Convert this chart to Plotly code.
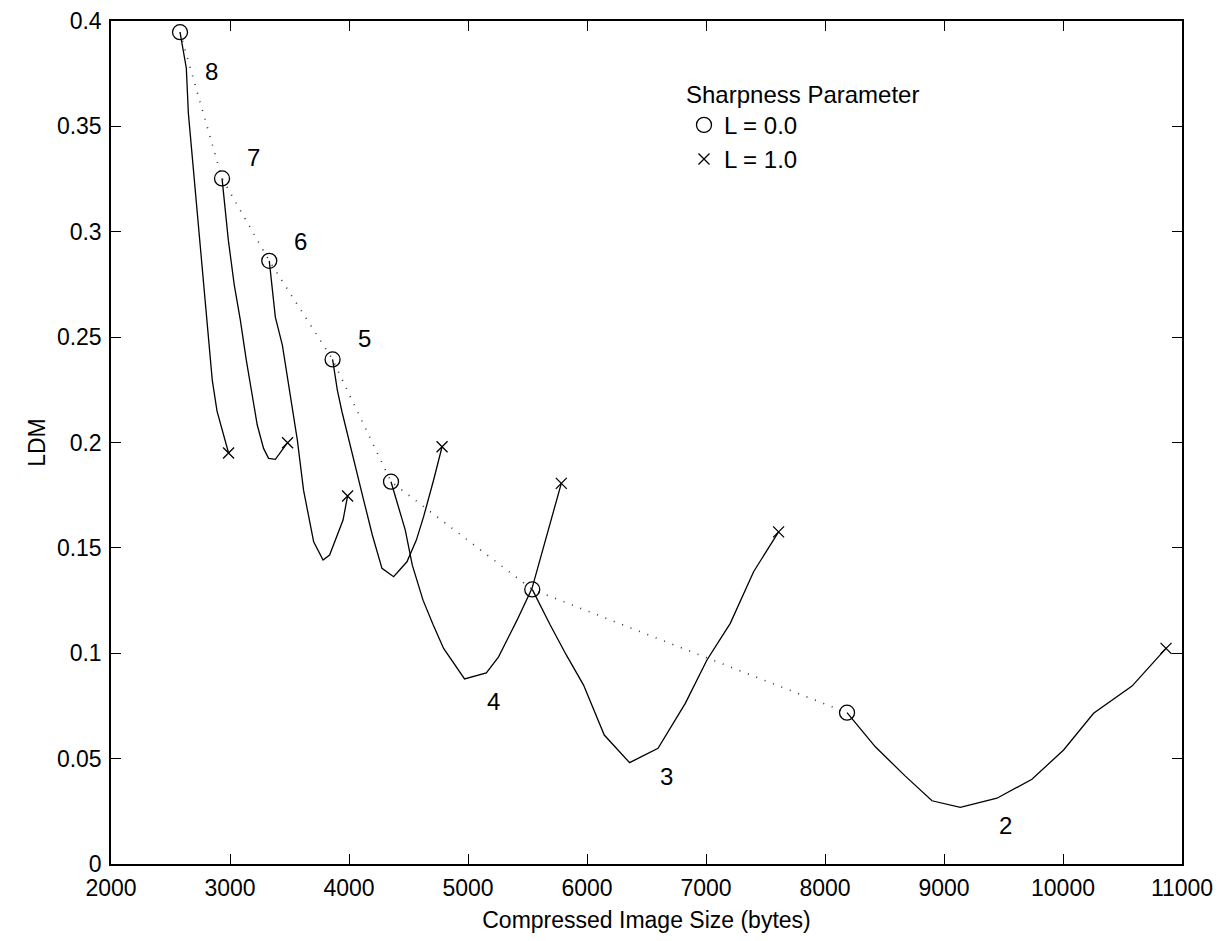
import plotly.graph_objects as go

# ---- data ----
size_q8 = [2580, 2633, 2650, 2708, 2759, 2792, 2818, 2851, 2891, 2988]
ldm_q8 = [0.3947, 0.3776, 0.3563, 0.3197, 0.2913, 0.2676, 0.2533, 0.2296, 0.2149, 0.1950]

size_q7 = [2933, 2986, 3036, 3087, 3137, 3187, 3229, 3282, 3324, 3381, 3484]
ldm_q7 = [0.3253, 0.2960, 0.2747, 0.2581, 0.2391, 0.2225, 0.2083, 0.1972, 0.1925, 0.1920, 0.1999]

size_q6 = [3330, 3381, 3440, 3498, 3566, 3618, 3658, 3703, 3782, 3837, 3950, 3988]
ldm_q6 = [0.2862, 0.2595, 0.2462, 0.2249, 0.2011, 0.1774, 0.1656, 0.1529, 0.1442, 0.1466, 0.1632, 0.1746]

size_q5 = [3862, 3902, 3941, 4011, 4061, 4123, 4196, 4277, 4375, 4487, 4566, 4627, 4711, 4782]
ldm_q5 = [0.2394, 0.2249, 0.2146, 0.1980, 0.1860, 0.1727, 0.1561, 0.1403, 0.1363, 0.1434, 0.1537, 0.1648, 0.1822, 0.1980]

size_q4 = [4353, 4414, 4473, 4532, 4622, 4708, 4795, 4971, 5154, 5257, 5412, 5538, 5664, 5784]
ldm_q4 = [0.1814, 0.1703, 0.1584, 0.1418, 0.1252, 0.1134, 0.1023, 0.0878, 0.0907, 0.0983, 0.1157, 0.1308, 0.1561, 0.1806]

size_q3 = [5540, 5691, 5826, 5971, 6145, 6358, 6597, 6826, 7008, 7204, 7400, 7610]
ldm_q3 = [0.1303, 0.1134, 0.0992, 0.0849, 0.0612, 0.0481, 0.0549, 0.0762, 0.0968, 0.1142, 0.1387, 0.1576]

size_q2 = [8185, 8423, 8675, 8899, 9137, 9445, 9739, 10005, 10257, 10580, 10866]
ldm_q2 = [0.0718, 0.0556, 0.0417, 0.0300, 0.0269, 0.0312, 0.0402, 0.0541, 0.0715, 0.0844, 0.1023]

quant_labels = ["8", "7", "6", "5", "4", "3", "2"]
label_x = [2843, 3198, 3591, 4129, 5215, 6664, 9515]
label_y = [0.3759, 0.3352, 0.2952, 0.2494, 0.0770, 0.0417, 0.0185]

x_ticks = [2000, 3000, 4000, 5000, 6000, 7000, 8000, 9000, 10000, 11000]
y_ticks = [0, 0.05, 0.1, 0.15, 0.2, 0.25, 0.3, 0.35, 0.4]

curves = [(size_q8, ldm_q8), (size_q7, ldm_q7), (size_q6, ldm_q6), (size_q5, ldm_q5),
          (size_q4, ldm_q4), (size_q3, ldm_q3), (size_q2, ldm_q2)]

FONT = "Liberation Sans, Arial, Helvetica, sans-serif"
fig = go.Figure()

for xs, ys in curves:
    fig.add_trace(go.Scatter(x=xs, y=ys, mode="lines", showlegend=False,
                             line=dict(color="black", width=1.3), hoverinfo="skip"))

start_x = [c[0][0] for c in curves]
start_y = [c[1][0] for c in curves]
end_x = [c[0][-1] for c in curves]
end_y = [c[1][-1] for c in curves]

fig.add_trace(go.Scatter(x=start_x, y=start_y, mode="lines", showlegend=False,
                         line=dict(color="#333333", width=1.6, dash="1px,8px"), hoverinfo="skip"))
fig.add_trace(go.Scatter(x=start_x, y=start_y, mode="markers", name="L = 0.0",
                         marker=dict(symbol="circle-open", size=15, color="black",
                                     line=dict(width=1.3, color="black"))))
fig.add_trace(go.Scatter(x=end_x, y=end_y, mode="markers", name="L = 1.0",
                         marker=dict(symbol="x-thin-open", size=11, color="black",
                                     line=dict(width=1.3, color="black"))))

for t, lx, ly in zip(quant_labels, label_x, label_y):
    fig.add_annotation(x=lx, y=ly, text=t, showarrow=False,
                       font=dict(family=FONT, size=24, color="black"))

axis_common = dict(showgrid=False, zeroline=False, showline=True, linecolor="black",
                   linewidth=1.5, mirror="allticks", ticks="inside", ticklen=10,
                   tickwidth=1, tickcolor="black", automargin=False,
                   tickfont=dict(family=FONT, size=23, color="black"))

fig.update_xaxes(range=[2000, 11000], tickvals=x_ticks, tickformat="d",
                 ticklabelstandoff=3,
                 title=dict(text="Compressed Image Size (bytes)", standoff=12,
                            font=dict(family=FONT, size=23, color="black")),
                 **axis_common)
fig.update_yaxes(range=[0, 0.4], tickvals=y_ticks,
                 title=dict(text="LDM", standoff=5,
                            font=dict(family=FONT, size=23, color="black")),
                 ticklabelstandoff=3,
                 **axis_common)

# page body adds an 8px offset; the figure is sized to compensate
fig.update_layout(
    width=1220, height=933,
    margin=dict(l=103, r=46, t=13, b=77),
    paper_bgcolor="white", plot_bgcolor="white",
    font=dict(family=FONT, size=23, color="black"),
    legend=dict(x=0.535, y=0.94, xanchor="left", yanchor="top",
                bgcolor="rgba(0,0,0,0)", borderwidth=0,
                title=dict(text="Sharpness Parameter", font=dict(family=FONT, size=24)),
                font=dict(family=FONT, size=24), itemwidth=30, tracegroupgap=0),
    showlegend=True,
)

fig.write_html("out.html")
